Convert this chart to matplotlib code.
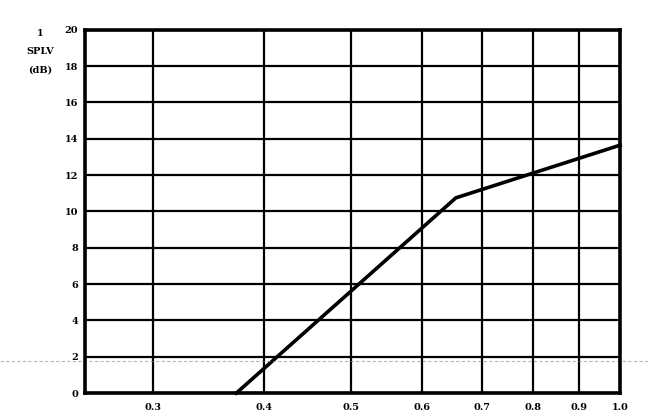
import numpy as np
import matplotlib
matplotlib.use("Agg")
import matplotlib.pyplot as plt
from matplotlib.ticker import FixedLocator, FixedFormatter, NullLocator

# Datos
x_ticks = [0.3, 0.4, 0.5, 0.6, 0.7, 0.8, 0.9, 1.0]
x_tick_labels = ["0.3", "0.4", "0.5", "0.6", "0.7", "0.8", "0.9", "1.0"]
y_ticks = [0, 2, 4, 6, 8, 10, 12, 14, 16, 18, 20]

curva_x = [0.372, 0.655, 1.0]
curva_y = [0.0, 10.75, 13.65]

fig = plt.figure(figsize=(6.5, 4.2), dpi=100)
ax = fig.add_axes([0.131, 0.064, 0.823, 0.865])

ax.set_xscale("log")
ax.set_xlim(0.252, 1.0)
ax.set_ylim(0, 20)

ax.xaxis.set_major_locator(FixedLocator(x_ticks))
ax.xaxis.set_major_formatter(FixedFormatter(x_tick_labels))
ax.xaxis.set_minor_locator(NullLocator())
ax.set_yticks(y_ticks)
ax.set_yticklabels([str(v) for v in y_ticks])

# Rejilla gruesa como en el original
ax.grid(True, color="black", linewidth=1.6)
ax.set_axisbelow(True)
for s in ax.spines.values():
    s.set_linewidth(2.6)

ax.tick_params(axis="y", length=0, labelsize=7, pad=5)
ax.tick_params(axis="x", length=0, labelsize=7, pad=7)
for lbl in ax.get_xticklabels() + ax.get_yticklabels():
    lbl.set_fontweight("bold")
    lbl.set_family("DejaVu Serif")

# Curva
ax.plot(curva_x, curva_y, color="black", linewidth=2.6, solid_joinstyle="miter", clip_on=False)

# Linea punteada tenue del escaneo
ax.axhline(1.75, xmin=-0.16, xmax=1.06, color="#888888", linewidth=0.8,
           linestyle=(0, (3, 2)), alpha=0.6, clip_on=False)

# Etiqueta del eje y
fig.text(0.062, 0.93, "1\nSPLV\n(dB)", ha="center", va="top", fontsize=7,
         fontweight="bold", family="DejaVu Serif", linespacing=2.3)

fig.savefig("out.png", dpi=100)
